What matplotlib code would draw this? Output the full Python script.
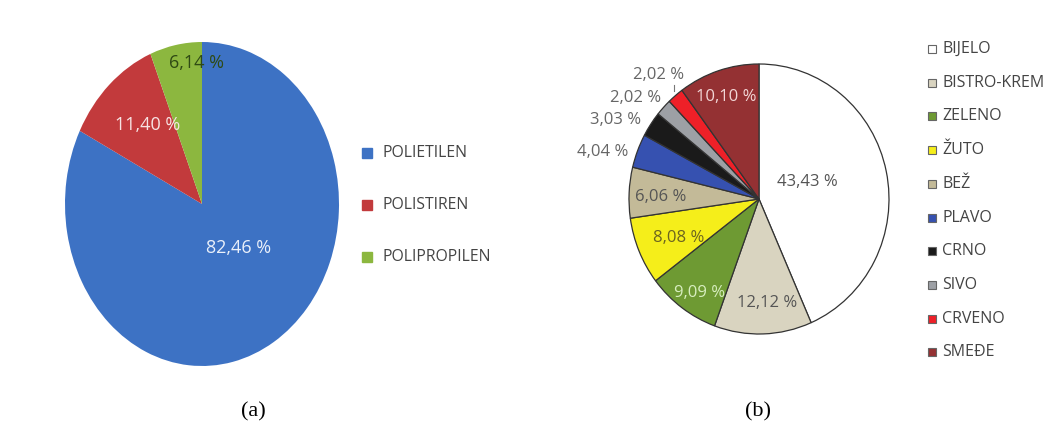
import numpy as np
import matplotlib.pyplot as plt
from matplotlib.lines import Line2D

# --- data -----------------------------------------------------------------
plastic_names  = ["POLIETILEN", "POLISTIREN", "POLIPROPILEN"]
plastic_values = [82.46, 11.40, 6.14]
plastic_colors = ["#3D72C4", "#C23A3C", "#8CB73F"]

colour_names  = ["BIJELO", "BISTRO-KREM", "ZELENO", "ŽUTO", "BEŽ",
                 "PLAVO", "CRNO", "SIVO", "CRVENO", "SMEĐE"]
colour_values = [43.43, 12.12, 9.09, 8.08, 6.06, 4.04, 3.03, 2.02, 2.02, 10.10]
colour_colors = ["#FFFFFF", "#D9D4C0", "#6E9A33", "#F5EE1A", "#C3BA98",
                 "#3651B0", "#1A1A1A", "#9DA0A5", "#EE2028", "#943133"]

# --- label placement: radius (fraction of pie radius), angle nudge (deg) --
plastic_lab_r   = [0.38, 0.63, 0.87]
plastic_lab_da  = [12.4, -3.7, -8.2]
plastic_lab_col = ["#EAF0FA", "#F7E3E3", "#2F4A14"]

colour_lab_r   = [0.39, 0.77, 0.83, 0.68, 0.76, 1.25, 1.25, 1.21, 1.20, 0.80]
colour_lab_da  = [7.0, 2.8, 3.2, 2.4, 1.6, 4.7, 5.8, 4.6, 0.2, 0.4]
colour_lab_col = ["#555555", "#555555", "#D8EEC0", "#6B6420", "#555555",
                  "#666666", "#666666", "#666666", "#666666", "#F2D6D6"]

FONT = "Open Sans"
W, H = 1051, 432

fig = plt.figure(figsize=(W / 100, H / 100), dpi=100, facecolor="white")


def fbox(cx, cy, rx, ry):
    # pixel centre/radii -> figure-fraction rect
    return [(cx - rx) / W, 1 - (cy + ry) / H, 2 * rx / W, 2 * ry / H]


def fmt(v):
    return f"{v:.2f}".replace(".", ",") + " %"


def mid_angles(values):
    frac = np.array(values) / np.sum(values)
    edges = np.concatenate([[0], np.cumsum(frac)])
    mids = (edges[:-1] + edges[1:]) / 2
    return 90 - 360 * mids


# --- (a) ------------------------------------------------------------------
ax1 = fig.add_axes(fbox(202, 204, 137, 162))
ax1.pie(plastic_values, colors=plastic_colors, startangle=90,
        counterclock=False, wedgeprops=dict(linewidth=0))
ax1.set_aspect("auto")
ax1.set_xlim(-1, 1)
ax1.set_ylim(-1, 1)
for v, a, da, r, c in zip(plastic_values, mid_angles(plastic_values),
                          plastic_lab_da, plastic_lab_r, plastic_lab_col):
    t = np.deg2rad(a + da)
    ax1.text(r * np.cos(t), r * np.sin(t), fmt(v), ha="center", va="center",
             fontsize=13, color=c, family=FONT)

for i, (name, col) in enumerate(zip(plastic_names, plastic_colors)):
    y = 1 - (153 + 52 * i) / H
    fig.add_artist(Line2D([367 / W], [y], marker="s", markersize=7,
                          color=col, markeredgecolor=col, linestyle="none"))
    fig.text(383 / W, y, name, ha="left", va="center", fontsize=11.3,
             color="#444444", family=FONT)

# --- (b) ------------------------------------------------------------------
ax2 = fig.add_axes(fbox(759, 199, 130, 135))
ax2.pie(colour_values, colors=colour_colors, startangle=90,
        counterclock=False,
        wedgeprops=dict(linewidth=0.9, edgecolor="#333333"))
ax2.set_aspect("auto")
ax2.set_xlim(-1, 1)
ax2.set_ylim(-1, 1)
for name, v, a, da, r, c in zip(colour_names, colour_values,
                                mid_angles(colour_values), colour_lab_da,
                                colour_lab_r, colour_lab_col):
    t = np.deg2rad(a + da)
    ax2.text(r * np.cos(t), r * np.sin(t), fmt(v), ha="center", va="center",
             fontsize=12, color=c, family=FONT)
    if name == "CRVENO":
        # small leader line from the label down to its thin slice
        m = np.deg2rad(a)
        x0 = 1.02 * np.cos(m)
        ax2.plot([x0, x0], [1.04 * np.sin(m), r * np.sin(t) - 0.07],
                 color="#777777", lw=0.8, clip_on=False)

for i, (name, col) in enumerate(zip(colour_names, colour_colors)):
    y = 1 - (49 + 33.7 * i) / H
    fig.add_artist(Line2D([932 / W], [y], marker="s", markersize=5.5,
                          color=col, markeredgecolor="#666666",
                          markeredgewidth=0.8, linestyle="none"))
    fig.text(942 / W, y, name, ha="left", va="center", fontsize=11.5,
             color="#444444", family=FONT)

# --- captions ---------------------------------------------------------------
fig.text(253 / W, 1 - 412 / H, "(a)", ha="center", va="center",
         fontsize=16, family="Liberation Serif")
fig.text(758 / W, 1 - 412 / H, "(b)", ha="center", va="center",
         fontsize=16, family="Liberation Serif")

fig.savefig("out.png", dpi=100, facecolor="white")
